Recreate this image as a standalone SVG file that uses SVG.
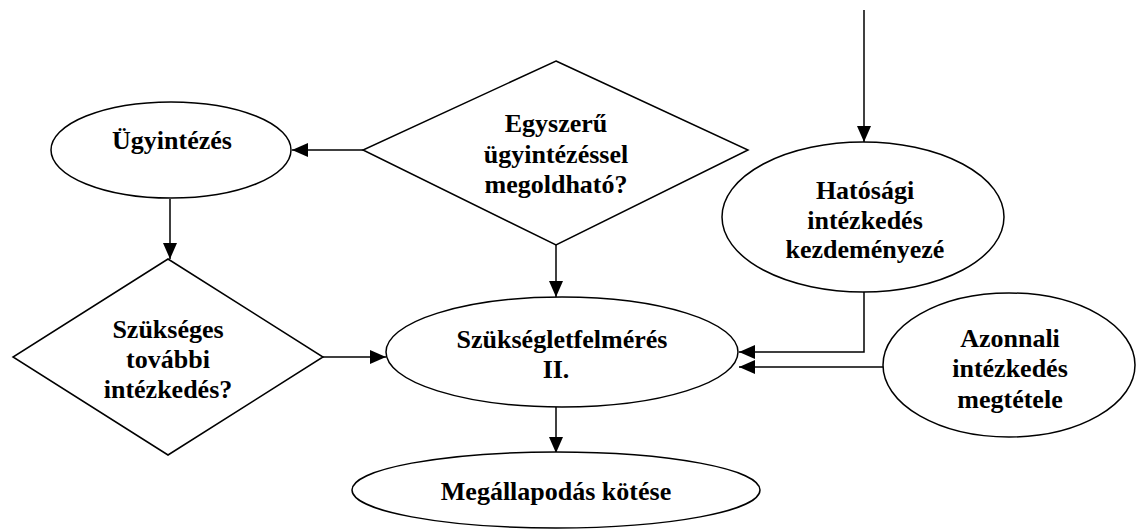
<svg xmlns="http://www.w3.org/2000/svg" width="1137" height="530" viewBox="0 0 1137 530">
<style>
.shape{fill:#fff;stroke:#000;stroke-width:1.5}
.edge{fill:none;stroke:#000;stroke-width:1.5}
text{font-family:"Liberation Serif","Times New Roman",serif;font-weight:bold;font-size:26px;fill:#000;text-anchor:middle}
</style>
<defs>
<marker id="arr" markerUnits="userSpaceOnUse" markerWidth="16" markerHeight="14" viewBox="0 0 16 14" refX="16" refY="7" orient="auto">
<path d="M0,0 L16,7 L0,14 Z" fill="#000"/>
</marker>
</defs>
<rect width="1137" height="530" fill="#fff"/>
<g id="connectors">
<path class="edge" d="M363,150 H292" marker-end="url(#arr)"/>
<path class="edge" d="M170,199 V259" marker-end="url(#arr)"/>
<path class="edge" d="M556,245 V297" marker-end="url(#arr)"/>
<path class="edge" d="M864,10 V142" marker-end="url(#arr)"/>
<path class="edge" d="M864,292 V352 H739" marker-end="url(#arr)"/>
<path class="edge" d="M883,367 H739" marker-end="url(#arr)"/>
<path class="edge" d="M323,357 H386" marker-end="url(#arr)"/>
<path class="edge" d="M556,407 V453" marker-end="url(#arr)"/>
</g>
<g id="ugyintezes">
<ellipse class="shape" cx="171" cy="150" rx="120" ry="48"/>
<text x="172" y="149">Ügyintézés</text>
</g>
<g id="egyszeru">
<polygon class="shape" points="556,61 748,150 556,245 363,150"/>
<text x="556" y="132">Egyszerű</text>
<text x="556" y="163">ügyintézéssel</text>
<text x="556" y="193">megoldható?</text>
</g>
<g id="hatosagi">
<ellipse class="shape" cx="863" cy="217" rx="141" ry="75"/>
<text x="865" y="199">Hatósági</text>
<text x="865" y="229">intézkedés</text>
<text x="865" y="258">kezdeményezé</text>
</g>
<g id="szukseges">
<polygon class="shape" points="168,259 323,357 168,455 13,357"/>
<text x="168" y="338">Szükséges</text>
<text x="168" y="368">további</text>
<text x="168" y="398">intézkedés?</text>
</g>
<g id="szuksegletfelmeres">
<ellipse class="shape" cx="562" cy="352" rx="176" ry="55"/>
<text x="562" y="348">Szükségletfelmérés</text>
<text x="556" y="378">II.</text>
</g>
<g id="azonnali">
<ellipse class="shape" cx="1009" cy="365" rx="126" ry="72"/>
<text x="1010" y="347">Azonnali</text>
<text x="1010" y="377">intézkedés</text>
<text x="1010" y="408">megtétele</text>
</g>
<g id="megallapodas">
<ellipse class="shape" cx="556" cy="490" rx="204" ry="38"/>
<text x="556" y="500">Megállapodás kötése</text>
</g>
</svg>
